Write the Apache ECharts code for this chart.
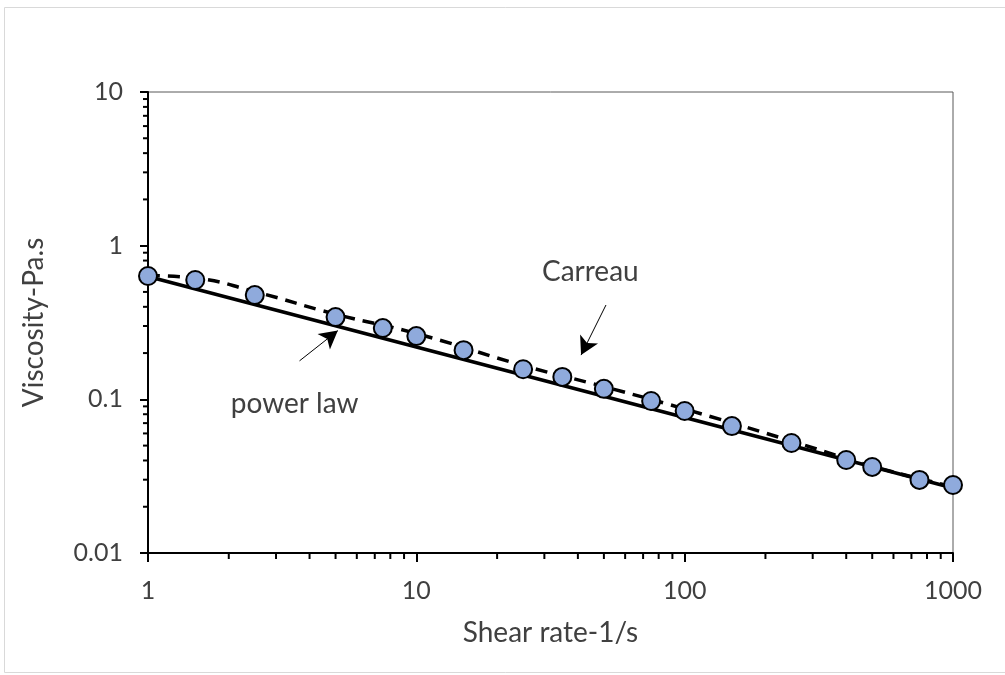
<!DOCTYPE html>
<html>
<head>
<meta charset="utf-8">
<script src="https://cdn.jsdelivr.net/npm/echarts@6/dist/echarts.min.js"></script>
<style>
  html, body { margin: 0; padding: 0; background: #fff; }
  #chart { width: 1005px; height: 675px; }
</style>
</head>
<body>
<div id="chart"></div>
<script>
// measured points
const shearRate = [1, 1.5, 2.5, 5, 7.5, 10, 15, 25, 35, 50, 75, 100, 150, 250, 400, 500, 750, 1000]
const viscosity = [0.635, 0.598, 0.477, 0.343, 0.291, 0.258, 0.209, 0.157, 0.140, 0.117, 0.0975, 0.084, 0.067, 0.052, 0.0403, 0.0363, 0.0299, 0.0277]

// power law fit (straight line on log-log)
const powerX = [1, 1000]
const powerY = [0.63, 0.0265]

// Carreau fit
const carreauX = [1, 1.5, 2.5, 5, 10, 25, 50, 100, 250, 500, 1000]
const carreauY = [0.64, 0.615, 0.502, 0.358, 0.268, 0.166, 0.121, 0.0865, 0.0535, 0.0367, 0.027]

// minor tick values
const xMinor = [2, 3, 4, 5, 6, 7, 8, 9, 20, 30, 40, 50, 60, 70, 80, 90, 200, 300, 400, 500, 600, 700, 800, 900]
const yMinor = [0.02, 0.03, 0.04, 0.05, 0.06, 0.07, 0.08, 0.09, 0.2, 0.3, 0.4, 0.5, 0.6, 0.7, 0.8, 0.9, 2, 3, 4, 5, 6, 7, 8, 9]

const font = 'Lato'
const txt = '#404040'

const fmt = v => String(Number(v.toPrecision(3)))

let chart = echarts.init(document.getElementById('chart'))
chart.setOption({
  animation: false,
  textStyle: { fontFamily: font },
  graphic: [
    // outer chart frame
    { type: 'rect', shape: { x: 4.5, y: 7.5, width: 1010, height: 665 }, style: { fill: 'none', stroke: '#d9d9d9', lineWidth: 1 }, silent: true }
  ],
  grid: {
    left: 148, right: 52, top: 92, bottom: 122,
    show: true, borderColor: '#595959', borderWidth: 1
  },
  xAxis: {
    type: 'log', logBase: 10, min: 1, max: 1000,
    name: 'Shear rate-1/s', nameLocation: 'middle', nameGap: 66,
    nameTextStyle: { fontSize: 28, color: txt, fontFamily: font },
    splitLine: { show: false },
    axisLine: { show: true, onZero: false, lineStyle: { color: '#000', width: 2 } },
    axisTick: { show: true, inside: false, length: 9, lineStyle: { color: '#000', width: 2 } },
    axisLabel: { fontSize: 25, color: txt, margin: 25, formatter: fmt }
  },
  yAxis: {
    type: 'log', logBase: 10, min: 0.01, max: 10,
    name: 'Viscosity-Pa.s', nameLocation: 'middle', nameGap: 100,
    nameTextStyle: { fontSize: 28, color: txt, fontFamily: font },
    splitLine: { show: false },
    axisLine: { show: true, onZero: false, lineStyle: { color: '#000', width: 2 } },
    axisTick: { show: true, inside: false, length: 8, lineStyle: { color: '#000', width: 2 } },
    axisLabel: { fontSize: 25, color: txt, margin: 25, formatter: fmt }
  },
  series: [
    // minor ticks on x
    {
      type: 'custom',
      silent: true,
      data: xMinor.map(v => [v, 0.01]),
      renderItem: (params, api) => {
        const p = api.coord([api.value(0), api.value(1)])
        return { type: 'line', shape: { x1: p[0], y1: p[1], x2: p[0], y2: p[1] + 6 }, style: { stroke: '#000', lineWidth: 2 } }
      },
      z: 1
    },
    // minor ticks on y
    {
      type: 'custom',
      silent: true,
      data: yMinor.map(v => [1, v]),
      renderItem: (params, api) => {
        const p = api.coord([api.value(0), api.value(1)])
        return { type: 'line', shape: { x1: p[0] - 5, y1: p[1], x2: p[0], y2: p[1] }, style: { stroke: '#000', lineWidth: 2 } }
      },
      z: 1
    },
    {
      name: 'power law',
      type: 'line',
      data: powerX.map((x, i) => [x, powerY[i]]),
      showSymbol: false,
      lineStyle: { color: '#000', width: 3.5 },
      z: 2,
      markLine: {
        silent: true,
        symbol: ['none', 'arrow'],
        symbolSize: [15, 18],
        label: { show: false },
        lineStyle: { color: '#000', width: 1, type: 'solid' },
        data: [
          [{ coord: [3.67, 0.178] }, { coord: [5.1, 0.28] }],
          [{ coord: [50.9, 0.411] }, { coord: [41.1, 0.194] }]
        ]
      },
      markPoint: {
        silent: true,
        symbol: 'circle',
        symbolSize: 0,
        label: { show: true, position: 'inside', color: txt, fontSize: 28, fontFamily: font, formatter: '{b}' },
        data: [
          { name: 'power law', coord: [3.52, 0.0932] },
          { name: 'Carreau', coord: [44.5, 0.674] }
        ]
      }
    },
    {
      name: 'Carreau',
      type: 'line',
      data: carreauX.map((x, i) => [x, carreauY[i]]),
      smooth: true,
      showSymbol: false,
      lineStyle: { color: '#000', width: 3.5, type: [12, 8] },
      z: 3
    },
    {
      name: 'data',
      type: 'scatter',
      data: shearRate.map((x, i) => [x, viscosity[i]]),
      symbol: 'circle',
      symbolSize: 18,
      itemStyle: { color: '#8FAADC', borderColor: '#000', borderWidth: 2, opacity: 1 },
      z: 4
    }
  ]
})
</script>
</body>
</html>
